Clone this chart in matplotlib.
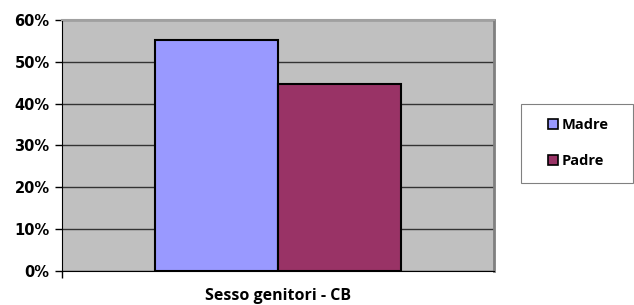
import matplotlib.pyplot as plt
from matplotlib.patches import Patch, Rectangle

series = ['Madre', 'Padre']
values = [55.3, 44.7]
colors = ['#9999ff', '#993366']
yticks = [0, 10, 20, 30, 40, 50, 60]
ytick_labels = ['0%', '10%', '20%', '30%', '40%', '50%', '60%']
xlabel = 'Sesso genitori - CB'

fig = plt.figure(figsize=(6.34, 3.05), dpi=100)
ax = fig.add_axes([0.098, 0.1115, 0.681, 0.823])
ax.set_facecolor('#c0c0c0')

w = 0.57
ax.bar(-w, values[0], width=w, align='edge', color=colors[0], edgecolor='black', linewidth=1.5, zorder=3)
ax.bar(0, values[1], width=w, align='edge', color=colors[1], edgecolor='black', linewidth=1.5, zorder=3)

ax.set_xlim(-1, 1)
ax.set_ylim(0, 60)
ax.set_yticks(yticks)
ax.set_yticklabels(ytick_labels, fontsize=10.5, fontweight='bold', family='DejaVu Sans')
ax.tick_params(axis='y', length=5, width=1, direction='out', pad=4)
ax.set_xticks([-1])
ax.set_xticklabels([''])
ax.tick_params(axis='x', length=5, width=1, direction='out')
ax.yaxis.grid(True, color='#333333', linewidth=1, zorder=1)
ax.set_axisbelow(True)

ax.spines['left'].set_color('black')
ax.spines['bottom'].set_color('black')
ax.spines['top'].set_color('#a0a0a0')
ax.spines['right'].set_color('#808080')
ax.spines['right'].set_linewidth(2)
ax.spines['top'].set_linewidth(1.5)

# x label placed directly below the axis
ax.text(0.5, -0.068, xlabel, transform=ax.transAxes, ha='center', va='top',
        fontsize=11.5, fontweight='bold', family='Open Sans')

# legend frame drawn by hand
fig.patches.append(Rectangle((0.822, 0.40), 0.176, 0.259, transform=fig.transFigure,
                             facecolor='white', edgecolor='#808080', linewidth=0.8))
handles = [Patch(facecolor=c, edgecolor='black', linewidth=1.2, label=s) for s, c in zip(series, colors)]
leg = fig.legend(handles=handles, loc='center', bbox_to_anchor=(0.912, 0.531),
                 frameon=False, prop={'family': 'Open Sans', 'weight': 'bold', 'size': 10.5},
                 handlelength=0.7, handleheight=0.7, handletextpad=0.2, labelspacing=1.5,
                 borderpad=0, borderaxespad=0)

fig.savefig('out.png', dpi=100)
